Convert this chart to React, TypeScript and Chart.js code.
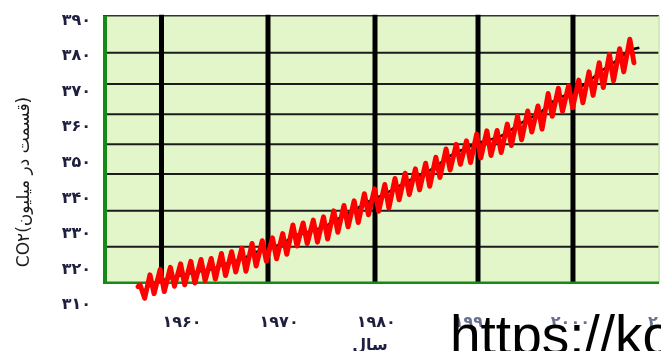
import React, { useEffect, useRef } from 'react';
import { Chart, registerables } from 'chart.js';

Chart.register(...registerables);

// Red seasonal CO2 curve (peaks / troughs)
const redYears = [
  1958.2, 1958.4, 1958.85,
  1959.37, 1959.77, 1960.37, 1960.77, 1961.37, 1961.77, 1962.37, 1962.77,
  1963.37, 1963.77, 1964.37, 1964.77, 1965.37, 1965.77, 1966.37, 1966.77,
  1967.37, 1967.77, 1968.37, 1968.77, 1969.37, 1969.77, 1970.37, 1970.77,
  1971.37, 1971.77, 1972.37, 1972.77, 1973.37, 1973.77, 1974.37, 1974.77,
  1975.37, 1975.77, 1976.37, 1976.77, 1977.37, 1977.77, 1978.37, 1978.77,
  1979.37, 1979.77, 1980.37, 1980.77, 1981.37, 1981.77, 1982.37, 1982.77,
  1983.37, 1983.77, 1984.37, 1984.77, 1985.37, 1985.77, 1986.37, 1986.77,
  1987.37, 1987.77, 1988.37, 1988.77, 1989.37, 1989.77, 1990.37, 1990.77,
  1991.37, 1991.77, 1992.37, 1992.77, 1993.37, 1993.77, 1994.37, 1994.77,
  1995.37, 1995.77, 1996.37, 1996.77, 1997.37, 1997.77, 1998.37, 1998.77,
  1999.37, 1999.77, 2000.37, 2000.77, 2001.37, 2001.77, 2002.37, 2002.77,
  2003.37, 2003.77, 2004.37, 2004.77, 2005.37, 2005.77, 2006.37, 2006.77,
];
const redValues = [
  315.2, 315.7, 311.9,
  318.5, 313.2, 320.0, 313.8, 320.6, 315.3, 321.6, 315.7,
  322.3, 316.2, 322.8, 316.9, 323.1, 317.3, 324.5, 318.3,
  325.0, 319.3, 326.0, 319.5, 327.3, 321.0, 328.1, 322.3,
  328.9, 323.0, 330.1, 324.3, 332.5, 326.6, 333.1, 327.3,
  333.9, 327.7, 334.8, 328.6, 336.5, 330.5, 338.0, 332.0,
  339.3, 333.2, 341.3, 335.4, 342.7, 336.4, 343.9, 337.3,
  345.6, 339.6, 347.1, 341.1, 348.3, 342.4, 349.9, 343.4,
  351.6, 345.9, 353.9, 348.0, 355.2, 349.6, 356.2, 350.1,
  358.1, 351.4, 359.0, 352.1, 359.1, 352.9, 360.9, 354.9,
  363.1, 356.5, 364.6, 358.7, 366.0, 359.5, 369.5, 363.1,
  371.0, 364.5, 371.7, 365.5, 373.3, 366.9, 375.6, 369.0,
  378.2, 371.2, 380.5, 373.1, 382.1, 375.6, 384.8, 378.2,
];

// Black annual-mean trend line
const trendYears = [
  1958.9, 1959.5, 1960.5, 1961.5, 1962.5, 1963.5, 1964.5, 1965.5, 1966.5, 1967.5,
  1968.5, 1969.5, 1970.5, 1971.5, 1972.5, 1973.5, 1974.5, 1975.5, 1976.5, 1977.5,
  1978.5, 1979.5, 1980.5, 1981.5, 1982.5, 1983.5, 1984.5, 1985.5, 1986.5, 1987.5,
  1988.5, 1989.5, 1990.5, 1991.5, 1992.5, 1993.5, 1994.5, 1995.5, 1996.5, 1997.5,
  1998.5, 1999.5, 2000.5, 2001.5, 2002.5, 2003.5, 2004.5, 2005.5, 2006.5, 2007.3,
];
const trendValues = [
  314.3, 315.97, 316.91, 317.64, 318.45, 318.99, 319.62, 320.04, 321.38, 322.16,
  323.04, 324.62, 325.68, 326.32, 327.45, 329.68, 330.18, 331.11, 332.04, 333.83,
  335.40, 336.84, 338.75, 340.11, 341.45, 343.05, 344.65, 346.12, 347.42, 349.19,
  351.57, 353.12, 354.39, 355.61, 356.45, 357.10, 358.83, 360.82, 362.61, 363.73,
  366.70, 368.38, 369.55, 371.14, 373.28, 375.80, 377.52, 379.80, 381.90, 382.40,
];

// Axis ticks
const xTickValues = [1960, 1970, 1980, 1990, 2000, 2010];
const xTickLabels = ['۱۹۶۰', '۱۹۷۰', '۱۹۸۰', '۱۹۹۰', '۲۰۰۰', '۲۰۱۰'];
const yTickValues = [310, 320, 330, 340, 350, 360, 370, 380, 390];
const yTickLabels = ['۳۱۰', '۳۲۰', '۳۳۰', '۳۴۰', '۳۵۰', '۳۶۰', '۳۷۰', '۳۸۰', '۳۹۰'];

// Decorative grid of the picture (in data units)
const gridYears = [1960.5, 1970.93, 1981.41, 1991.5, 2000.8];
const gridValues = [381.0, 372.19, 363.66, 355.22, 346.86, 336.53, 326.4];

const yTitle = 'CO۲(قسمت در میلیون)';
const xTitle = 'سال';
const watermark = 'https://ko';

// Scale ranges
const X_MIN = 1954.77;
const X_MAX = 2015.2;
const XT_MIN = 1951.86;
const XT_MAX = 2015.41;
const Y_MIN = 309.5;
const Y_MAX = 391.5;
const BOX_RIGHT_YEAR = 2009.23;
const BOX_TOP = 391.41;
const BOX_BOTTOM = 316.28;

const framePlugin = {
  id: 'frame',
  beforeDatasetsDraw(chart: any) {
    const { ctx, chartArea, scales } = chart;
    const x = scales.x;
    const y = scales.y;
    const L = chartArea.left;
    const R = x.getPixelForValue(BOX_RIGHT_YEAR);
    const T = y.getPixelForValue(BOX_TOP);
    const B = y.getPixelForValue(BOX_BOTTOM);
    ctx.save();
    ctx.fillStyle = '#e3f6c9';
    ctx.fillRect(L, T, R - L, B - T);
    // horizontal lines
    ctx.strokeStyle = '#1c1c1c';
    ctx.lineWidth = 2;
    for (const v of gridValues) {
      const py = y.getPixelForValue(v);
      ctx.beginPath();
      ctx.moveTo(L, py);
      ctx.lineTo(R, py);
      ctx.stroke();
    }
    // top border
    ctx.strokeStyle = '#333';
    ctx.lineWidth = 1.5;
    ctx.beginPath();
    ctx.moveTo(L, T);
    ctx.lineTo(R, T);
    ctx.stroke();
    // vertical lines
    ctx.strokeStyle = '#000';
    ctx.lineWidth = 5;
    for (const yr of gridYears) {
      const px = x.getPixelForValue(yr);
      ctx.beginPath();
      ctx.moveTo(px, T - 1);
      ctx.lineTo(px, B);
      ctx.stroke();
    }
    // right thin edge
    ctx.strokeStyle = '#c8e6b0';
    ctx.lineWidth = 1.5;
    ctx.beginPath();
    ctx.moveTo(R, T);
    ctx.lineTo(R, B);
    ctx.stroke();
    // green borders
    ctx.strokeStyle = '#168a16';
    ctx.lineWidth = 2.5;
    ctx.beginPath();
    ctx.moveTo(L, B);
    ctx.lineTo(R, B);
    ctx.stroke();
    ctx.lineWidth = 4;
    ctx.beginPath();
    ctx.moveTo(L + 2, T);
    ctx.lineTo(L + 2, B + 1);
    ctx.stroke();
    ctx.restore();
  },
  afterDraw(chart: any) {
    const { ctx } = chart;
    ctx.save();
    // y title
    ctx.translate(25, 182);
    ctx.rotate(-Math.PI / 2);
    ctx.textAlign = 'center';
    ctx.textBaseline = 'middle';
    ctx.font = '17px "DejaVu Sans"';
    ctx.fillStyle = '#1a1a1a';
    ctx.fillText(yTitle, 0, 0);
    ctx.restore();

    ctx.save();
    ctx.textAlign = 'center';
    ctx.textBaseline = 'alphabetic';
    ctx.font = 'bold 16px "DejaVu Sans"';
    ctx.fillStyle = '#1f2040';
    ctx.fillText(xTitle, 370, 350);
    ctx.restore();

    ctx.save();
    ctx.textAlign = 'left';
    ctx.textBaseline = 'alphabetic';
    ctx.font = '55px "Liberation Sans"';
    ctx.fillStyle = '#000';
    ctx.fillText(watermark, 450, 354);
    ctx.restore();
  },
};

export default function App() {
  const ref = useRef<HTMLCanvasElement>(null);
  useEffect(() => {
    const canvas = ref.current;
    if (!canvas) return;
    const chart = new Chart(canvas, {
      type: 'line',
      data: {
        datasets: [
          {
            label: 'CO2',
            data: redYears.map((yr, i) => ({ x: yr, y: redValues[i] })),
            borderColor: '#ff0000',
            borderWidth: 5,
            pointRadius: 0,
            tension: 0,
            borderJoinStyle: 'round',
            borderCapStyle: 'round',
            xAxisID: 'x',
            yAxisID: 'y',
          },
          {
            label: 'trend',
            data: trendYears.map((yr, i) => ({ x: yr, y: trendValues[i] })),
            borderColor: '#000000',
            borderWidth: 2.5,
            pointRadius: 0,
            tension: 0,
            xAxisID: 'x',
            yAxisID: 'y',
          },
        ],
      },
      options: {
        animation: false,
        responsive: false,
        devicePixelRatio: 1,
        layout: { padding: { top: 15.4, left: 0, right: 0, bottom: 0 } },
        plugins: { legend: { display: false }, tooltip: { enabled: false }, title: { display: false } },
        scales: {
          x: { type: 'linear', min: X_MIN, max: X_MAX, display: false },
          xt: {
            type: 'linear',
            position: 'bottom',
            min: XT_MIN,
            max: XT_MAX,
            grid: { display: false, drawTicks: false },
            border: { display: false },
            afterBuildTicks: (s: any) => {
              s.ticks = xTickValues.map((v) => ({ value: v }));
            },
            afterFit: (s: any) => {
              s.height = 44.2;
              s.paddingLeft = 0;
              s.paddingRight = 0;
            },
            ticks: {
              autoSkip: false,
              maxRotation: 0,
              minRotation: 0,
              padding: 6,
              font: { family: 'DejaVu Sans', size: 16, weight: 'bold' },
              color: (c: any) => (c.tick && c.tick.value >= 1990 ? '#6a7090' : '#1f2040'),
              callback: (v: any) => xTickLabels[xTickValues.indexOf(Number(v))] ?? '',
            },
          },
          y: {
            type: 'linear',
            position: 'left',
            min: Y_MIN,
            max: Y_MAX,
            grid: { display: false, drawTicks: false },
            border: { display: false },
            afterBuildTicks: (s: any) => {
              s.ticks = yTickValues.map((v) => ({ value: v }));
            },
            afterFit: (s: any) => {
              s.width = 103;
              s.paddingTop = 0;
              s.paddingBottom = 0;
            },
            ticks: {
              padding: 12,
              font: { family: 'DejaVu Sans', size: 16, weight: 'bold' },
              color: '#1f2040',
              callback: (v: any) => yTickLabels[yTickValues.indexOf(Number(v))] ?? '',
            },
          },
        },
      },
      plugins: [framePlugin],
    } as any);
    return () => chart.destroy();
  }, []);
  return (
    <div
      style={{
        position: 'fixed',
        left: 0,
        top: 0,
        width: 661,
        height: 351,
        overflow: 'hidden',
        background: '#ffffff',
      }}
    >
      <canvas ref={ref} width={720} height={351} style={{ display: 'block', width: 720, height: 351 }} />
    </div>
  );
}
